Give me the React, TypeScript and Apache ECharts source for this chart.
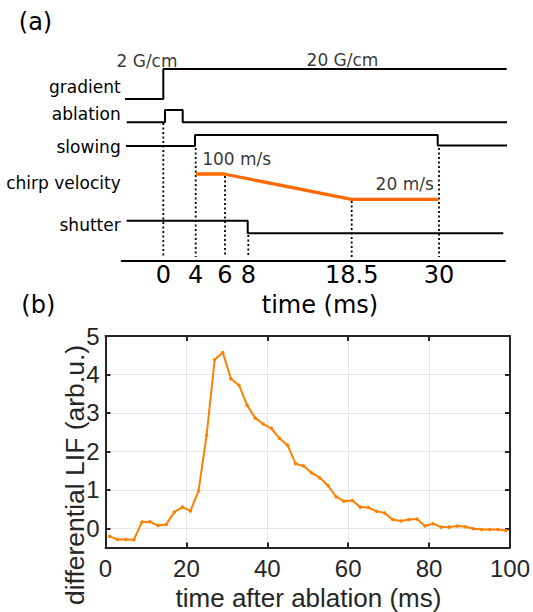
import React, { useEffect, useRef } from "react";
import * as echarts from "echarts";

// ---------- panel (a): timing schematic ----------
// schematic time axis: event times and their positions along the drawn axis
const timingTickLabels = ["0", "4", "6", "8", "18.5", "30"];
const timingTickPos = [0, 32.4, 61.7, 85, 188.4, 275.7];
const signalNames = ["gradient", "ablation", "slowing", "chirp velocity", "shutter"];
const signalLabelLevel = [87, 114, 146.7, 183.3, 225];

const gradientTrace = [[-38.3, 99], [0, 99], [0, 69], [343.4, 69]];
const ablationTrace = [[-36.6, 122.3], [1.7, 122.3], [1.7, 110], [19.4, 110], [19.4, 122.3], [348.4, 122.3]];
const slowingTrace = [[-37.3, 146], [31.7, 146], [31.7, 135], [274.4, 135], [274.4, 145.5], [346, 145.5]];
const chirpTrace = [[32.7, 174], [60.7, 174], [188.4, 199.3], [275, 199.3]];
const shutterTrace = [[-36.6, 220.7], [84.4, 220.7], [84.4, 233.3], [340, 233.3]];
const markerTop = [123, 148, 176, 235, 201, 148];
const markerBottom = 257;

const annotationTexts = ["2 G/cm", "20 G/cm", "100 m/s", "20 m/s"];
const annotationX = [-16.3, 179.2, 73.4, 241.4];
const annotationY = [60.7, 60, 159.3, 184];

// ---------- panel (b): differential LIF ----------
const lifTime = [1, 3, 5, 7, 9, 11, 13, 15, 17, 19, 21, 23, 25, 27, 29, 31, 33, 35, 37, 39, 41, 43, 45, 47, 49,
  51, 53, 55, 57, 59, 61, 63, 65, 67, 69, 71, 73, 75, 77, 79, 81, 83, 85, 87, 89, 91, 93, 95, 97, 99];
const lifValue = [-0.21, -0.29, -0.29, -0.3, 0.16, 0.17, 0.07, 0.1, 0.42, 0.55, 0.45, 0.97, 2.42, 4.39, 4.57,
  3.89, 3.72, 3.2, 2.87, 2.71, 2.6, 2.34, 2.16, 1.68, 1.62, 1.44, 1.31, 1.11, 0.82, 0.7, 0.72, 0.55, 0.54, 0.44,
  0.4, 0.23, 0.19, 0.23, 0.24, 0.06, 0.12, 0.03, 0.03, 0.06, 0.04, -0.01, -0.03, -0.03, -0.03, -0.06];

const DV = "DejaVu Sans";
const LS = "Liberation Sans";
const AX = "#262626";

function lookup(vals: number[], labels: string[], v: number) {
  for (let i = 0; i < vals.length; i++) if (Math.abs(vals[i] - v) < 0.05) return labels[i];
  return "";
}

export default function App() {
  const ref = useRef<HTMLDivElement>(null);
  useEffect(() => {
    document.body.style.margin = "0";
    const chart = echarts.init(ref.current!, undefined, { renderer: "svg" });
    const step = (data: number[][], color = "#000", width = 2) => ({
      type: "line",
      xAxisIndex: 0,
      yAxisIndex: 0,
      data,
      symbol: "none",
      clip: false,
      lineStyle: { color, width },
      z: 3,
    });
    const markers = timingTickPos.map((p, i) => ({
      type: "line",
      xAxisIndex: 0,
      yAxisIndex: 0,
      data: [[p, markerTop[i]], [p, markerBottom]],
      symbol: "none",
      clip: false,
      lineStyle: { color: "#000", width: 1.8, type: [2, 2.5] },
      z: 2,
    }));
    const boxLine = { show: true, onZero: false, lineStyle: { color: AX, width: 2 } };
    const inTick = { show: true, inside: true, length: 5, lineStyle: { color: AX, width: 2 } };
    const grid = { show: true, lineStyle: { color: "#e6e6e6", width: 1 } };
    chart.setOption({
      animation: false,
      grid: [
        { left: 121.7, right: 28, top: 50, height: 211 },
        { left: 105.5, right: 21, top: 336, bottom: 64.5 },
      ],
      xAxis: [
        {
          gridIndex: 0,
          type: "value",
          min: -41.6,
          max: 341.7,
          axisLine: { show: true, onZero: false, lineStyle: { color: "#000", width: 2 } },
          axisTick: { show: false },
          splitLine: { show: false },
          axisLabel: {
            customValues: timingTickPos,
            formatter: (v: number) => lookup(timingTickPos, timingTickLabels, v),
            fontFamily: DV,
            fontSize: 24,
            color: "#000",
            margin: 2,
          },
        },
        {
          gridIndex: 1,
          type: "value",
          min: 0,
          max: 100,
          interval: 20,
          axisLine: boxLine,
          axisTick: inTick,
          splitLine: grid,
          axisLabel: { fontFamily: LS, fontSize: 24, color: AX, margin: 9 },
        },
        {
          gridIndex: 1,
          type: "value",
          position: "top",
          min: 0,
          max: 100,
          interval: 20,
          axisLine: boxLine,
          axisTick: inTick,
          splitLine: { show: false },
          axisLabel: { show: false },
        },
      ],
      yAxis: [
        {
          gridIndex: 0,
          type: "value",
          inverse: true,
          min: 50,
          max: 261,
          axisLine: { show: false },
          axisTick: { show: false },
          splitLine: { show: false },
          axisLabel: {
            customValues: signalLabelLevel,
            formatter: (v: number) => lookup(signalLabelLevel, signalNames, v),
            fontFamily: DV,
            fontSize: 17,
            color: "#000",
            margin: 1,
          },
        },
        {
          gridIndex: 1,
          type: "value",
          min: -0.5,
          max: 5,
          splitNumber: 5,
          axisLine: boxLine,
          axisTick: inTick,
          splitLine: grid,
          axisLabel: { fontFamily: LS, fontSize: 24, color: AX, margin: 6, showMinLabel: false },
        },
        {
          gridIndex: 1,
          type: "value",
          position: "right",
          min: -0.5,
          max: 5,
          splitNumber: 5,
          axisLine: boxLine,
          axisTick: inTick,
          splitLine: { show: false },
          axisLabel: { show: false },
        },
      ],
      graphic: [
        { type: "text", x: 35.5, y: 21.5, style: { text: "(a)", font: `24px '${DV}'`, fill: "#000", align: "center", verticalAlign: "middle" } },
        { type: "text", x: 38.3, y: 305, style: { text: "(b)", font: `24px '${DV}'`, fill: "#000", align: "center", verticalAlign: "middle" } },
        { type: "text", x: 320, y: 305, style: { text: "time (ms)", font: `24px '${DV}'`, fill: "#000", align: "center", verticalAlign: "middle" } },
        { type: "text", x: 308.5, y: 598, style: { text: "time after ablation (ms)", font: `26px '${LS}'`, fill: AX, align: "center", verticalAlign: "middle" } },
        { type: "text", x: 75, y: 475, rotation: Math.PI / 2, style: { text: "differential LIF (arb.u.)", font: `26.5px '${LS}'`, fill: AX, align: "center", verticalAlign: "middle" } },
      ],
      series: [
        step(gradientTrace),
        step(ablationTrace),
        step(slowingTrace),
        step(chirpTrace, "#ff6a00", 3.3),
        step(shutterTrace),
        ...markers,
        {
          type: "scatter",
          xAxisIndex: 0,
          yAxisIndex: 0,
          symbolSize: 0,
          data: annotationTexts.map((t, i) => ({ name: t, value: [annotationX[i], annotationY[i]] })),
          label: {
            show: true,
            position: "inside",
            formatter: (p: any) => p.name,
            fontFamily: DV,
            fontSize: 17,
            color: "#000",
          },
          z: 5,
        },
        {
          type: "line",
          xAxisIndex: 1,
          yAxisIndex: 1,
          data: lifTime.map((t, i) => [t, lifValue[i]]),
          symbol: "circle",
          symbolSize: 3.5,
          showSymbol: true,
          itemStyle: { color: "#ff8000" },
          lineStyle: { color: "#ff8000", width: 2 },
          z: 4,
        },
      ],
    });
    return () => chart.dispose();
  }, []);
  return <div ref={ref} style={{ width: 533, height: 612, position: "absolute", left: 0, top: 0 }} />;
}
